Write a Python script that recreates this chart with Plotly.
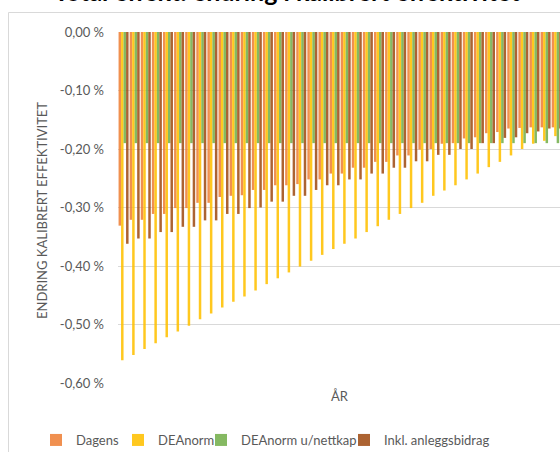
import plotly.graph_objects as go

# Years on the category axis (labels hidden, only the axis title is shown)
years = [str(y) for y in range(2021, 2061)]

# Change in calibrated efficiency, in percent
dagens = [-0.331, -0.321, -0.321, -0.311, -0.311, -0.301, -0.301, -0.292, -0.292, -0.282,
          -0.280, -0.279, -0.270, -0.270, -0.262, -0.262, -0.260, -0.252, -0.252, -0.242,
          -0.242, -0.232, -0.232, -0.222, -0.222, -0.211, -0.211, -0.201, -0.200, -0.191,
          -0.190, -0.182, -0.180, -0.173, -0.171, -0.165, -0.164, -0.163, -0.163, -0.163]
deanorm = [-0.561, -0.552, -0.542, -0.532, -0.522, -0.512, -0.502, -0.491, -0.481, -0.471,
           -0.461, -0.452, -0.442, -0.431, -0.421, -0.411, -0.401, -0.391, -0.381, -0.371,
           -0.362, -0.353, -0.342, -0.332, -0.321, -0.311, -0.301, -0.292, -0.280, -0.271,
           -0.262, -0.252, -0.242, -0.231, -0.222, -0.211, -0.200, -0.191, -0.186, -0.178]
deanorm_u_nettkap = [-0.190, -0.190, -0.190, -0.190, -0.190, -0.190, -0.190, -0.190, -0.190, -0.190,
                     -0.190, -0.190, -0.190, -0.190, -0.190, -0.190, -0.190, -0.190, -0.190, -0.190,
                     -0.190, -0.190, -0.190, -0.190, -0.190, -0.190, -0.190, -0.190, -0.190, -0.190,
                     -0.190, -0.190, -0.190, -0.190, -0.190, -0.190, -0.190, -0.190, -0.190, -0.190]
inkl_anleggsbidrag = [-0.362, -0.353, -0.353, -0.342, -0.342, -0.333, -0.333, -0.322, -0.322, -0.311,
                      -0.311, -0.301, -0.300, -0.290, -0.290, -0.280, -0.280, -0.270, -0.262, -0.262,
                      -0.252, -0.252, -0.242, -0.242, -0.232, -0.232, -0.221, -0.221, -0.210, -0.210,
                      -0.200, -0.200, -0.190, -0.190, -0.181, -0.180, -0.173, -0.170, -0.165, -0.165]

series_names = ["Dagens", "DEAnorm", "DEAnorm u/nettkap", "Inkl. anleggsbidrag"]
y_tick_vals = [0.0, -0.1, -0.2, -0.3, -0.4, -0.5, -0.6]
y_tick_text = ["0,00 %", "-0,10 %", "-0,20 %", "-0,30 %", "-0,40 %", "-0,50 %", "-0,60 %"]

fills = ["rgba(237,125,49,0.85)", "rgba(255,192,0,0.88)",
         "rgba(112,173,71,0.85)", "rgba(158,72,14,0.85)"]

FONT = "Lato, 'Open Sans', sans-serif"
GREY = "#595959"

W, H = 560, 452
L, R, T, B = 118, 0, 32, 69
ph = H - T - B
pw = W - L - R

def py(px_y):
    return (H - B - px_y) / ph

def pxr(px_x):
    return (px_x - L) / pw

# One legend box per series so each entry sits on the same row at its own spot
legend_ids = ["legend", "legend2", "legend3", "legend4"]
legend_left = [36, 118, 201, 344]

fig = go.Figure()
for name, vals, col, lid in zip(series_names,
                                [dagens, deanorm, deanorm_u_nettkap, inkl_anleggsbidrag],
                                fills, legend_ids):
    fig.add_trace(go.Bar(x=years, y=vals, name=name, legend=lid,
                         marker=dict(color=col, line=dict(width=0))))

legend_layout = {}
for lid, left in zip(legend_ids, legend_left):
    legend_layout[lid] = dict(orientation="h", xref="container", yref="container",
                              x=left / W, xanchor="left",
                              y=(H - 440) / H, yanchor="middle",
                              font=dict(family=FONT, size=13, color=GREY),
                              itemwidth=30, bgcolor="rgba(0,0,0,0)")

fig.update_layout(
    width=W, height=H,
    margin=dict(l=L, r=R, t=T, b=B, pad=0, autoexpand=False),
    paper_bgcolor="white", plot_bgcolor="white",
    barmode="group", bargap=0.1, bargroupgap=0.0,
    font=dict(family=FONT, size=12, color=GREY),
    showlegend=True,
    xaxis=dict(range=[-0.5, 39.3], showticklabels=False, showgrid=False,
               showline=False, zeroline=False, ticks=""),
    yaxis=dict(range=[-0.6, 0.0], tickvals=y_tick_vals, ticktext=y_tick_text,
               showgrid=True, gridcolor="#D9D9D9", gridwidth=1,
               zeroline=False, showline=False, ticks="",
               ticklabelstandoff=13,
               tickfont=dict(family=FONT, size=13, color=GREY)),
    **legend_layout,
)

# Chart-area frame
fig.add_shape(type="rect", xref="paper", yref="paper",
              x0=pxr(8.5), x1=pxr(600), y0=py(500), y1=py(12.5),
              line=dict(color="#D9D9D9", width=1), fillcolor="rgba(0,0,0,0)",
              layer="below")

# Chart title (runs off the top edge of the figure)
fig.add_annotation(text="<b>Total effekt: endring i kalibrert effektivitet</b>",
                   xref="paper", yref="paper", x=pxr(287), y=py(7.5),
                   xanchor="center", yanchor="bottom", showarrow=False,
                   font=dict(family=FONT, size=25, color="#000000"))

# Axis titles
fig.add_annotation(text="ENDRING KALIBRERT EFFEKTIVITET", textangle=-90,
                   xref="paper", yref="paper", x=pxr(42), y=py(211),
                   xanchor="center", yanchor="middle", showarrow=False,
                   font=dict(family=FONT, size=13, color=GREY))
fig.add_annotation(text="ÅR", xref="paper", yref="paper", x=pxr(340), y=py(396),
                   xanchor="center", yanchor="middle", showarrow=False,
                   font=dict(family=FONT, size=13, color=GREY))

fig.write_html("out.html")
